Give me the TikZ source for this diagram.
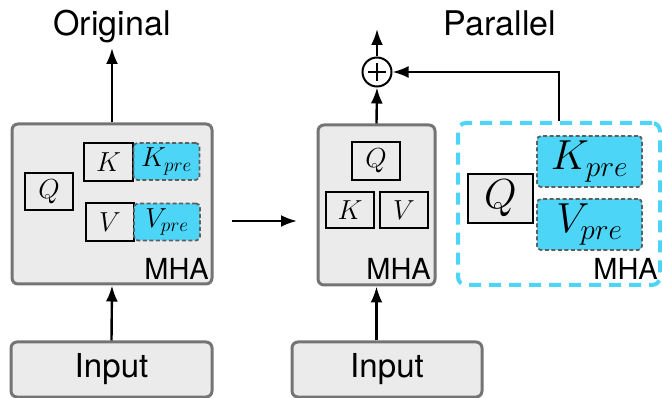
\RequirePackage{fix-cm}
\documentclass[tikz,border=0pt]{standalone}
\usepackage{fontspec}
\setsansfont{TeX Gyre Heros}
\usetikzlibrary{arrows.meta}
\definecolor{boxgray}{HTML}{EBEBEB}
\definecolor{edgegray}{HTML}{747474}
\definecolor{kvcyan}{HTML}{4DD5F7}
\definecolor{dashgray}{HTML}{5E5E5E}
\tikzset{
  mhabox/.style={draw=edgegray, line width=3pt, fill=boxgray, rounded corners=6pt,
    inner sep=0pt},
  inbox/.style={draw=edgegray, line width=3pt, fill=boxgray, rounded corners=6pt,
    inner sep=0pt, font=\sffamily\fontsize{33}{36}\selectfont},
  mat/.style={draw=black, line width=2pt, fill=boxgray, inner sep=0pt},
  prebox/.style={draw=dashgray, dash pattern=on 4pt off 2.5pt, line width=1.8pt,
    fill=kvcyan, rounded corners=4pt, inner sep=0pt},
  cyanframe/.style={draw=kvcyan, line width=4pt, dash pattern=on 12pt off 8pt,
    rounded corners=8pt, inner sep=0pt},
  tag/.style={font=\sffamily\fontsize{29}{32}\selectfont, inner sep=0pt},
  heading/.style={font=\sffamily\fontsize{34}{38}\selectfont, inner sep=0pt},
  flow/.style={line width=2.4pt, -{Latex[length=16pt,width=12pt]}},
  sm/.style={font=\fontsize{27.5}{32}\selectfont},
  lg/.style={font=\fontsize{42}{48}\selectfont},
}
\begin{document}
\begin{tikzpicture}[x=1pt, y=-1pt]
\useasboundingbox (0,0) rectangle (662,398);

% ---------- Original ----------
\node[heading, anchor=base] (titleL) at (112,36) {Original};
\node[mhabox, minimum width=200pt, minimum height=160pt] (mhaL) at (112,204) {};
\node[mat, sm, minimum width=48pt, minimum height=37pt] (qL) at (49,191.5) {$Q$};
\node[mat, sm, minimum width=49pt, minimum height=38pt] (kL) at (108.5,162) {$K$};
\node[prebox, sm, minimum width=66pt, minimum height=37pt] (kpL) at (166.5,161.5) {$K_{pre}$};
\node[mat, sm, minimum width=48pt, minimum height=38pt] (vL) at (110,222) {$V$};
\node[prebox, sm, minimum width=66pt, minimum height=37pt] (vpL) at (167,222) {$V_{pre}$};
\node[tag, anchor=base east] (mhaLt) at (209,280) {MHA};
\node[inbox, minimum width=201pt, minimum height=55pt] (inL) at (111.5,369.5) {Input};
\coordinate (outL) at (112,48);
\draw[flow] (inL.north) -- (mhaL.south);
\draw[flow] (mhaL.north) -- (outL);

% ---------- transition arrow ----------
\coordinate (midA) at (232,221);
\coordinate (midB) at (297,221);
\draw[flow] (midA) -- (midB);

% ---------- Parallel ----------
\node[heading, anchor=base] (titleR) at (500,36) {Parallel};
\node[mhabox, minimum width=117pt, minimum height=160pt] (mhaR) at (376.5,205) {};
\node[mat, sm, minimum width=48pt, minimum height=38pt] (qR) at (376,161) {$Q$};
\node[mat, sm, minimum width=48pt, minimum height=36pt] (kR) at (350,210) {$K$};
\node[mat, sm, minimum width=48pt, minimum height=36pt] (vR) at (404,210) {$V$};
\node[tag, anchor=base east] (mhaRt) at (431,280) {MHA};
\node[inbox, minimum width=190pt, minimum height=55pt] (inR) at (387,369.5) {Input};
\draw[flow] (inR.north -| mhaR.south) -- (mhaR.south);

\node[cyanframe, minimum width=202pt, minimum height=162pt] (pfx) at (559,204) {};
\node[mat, lg, minimum width=65pt, minimum height=49pt] (qP) at (500.5,198.5) {$Q$};
\node[prebox, lg, minimum width=105pt, minimum height=51pt] (kpP) at (589.5,161.5) {$K_{pre}$};
\node[prebox, lg, minimum width=105pt, minimum height=51pt] (vpP) at (589.5,224.5) {$V_{pre}$};
\node[tag, anchor=base east] (mhaPt) at (658,280) {MHA};

\node[circle, draw=black, line width=2pt, fill=white, minimum size=29pt,
  inner sep=0pt,
  path picture={\draw[line width=2pt]
    ([xshift=-9pt]path picture bounding box.center) -- ([xshift=9pt]path picture bounding box.center)
    ([yshift=-9pt]path picture bounding box.center) -- ([yshift=9pt]path picture bounding box.center);}
  ] (sum) at (377,72) {};
\coordinate (outR) at (377,29);
\draw[flow] (mhaR.north) -- (sum.south);
\draw[flow] (sum.north) -- (outR);
\draw[flow] (pfx.north) |- (sum.east);
\end{tikzpicture}
\end{document}
